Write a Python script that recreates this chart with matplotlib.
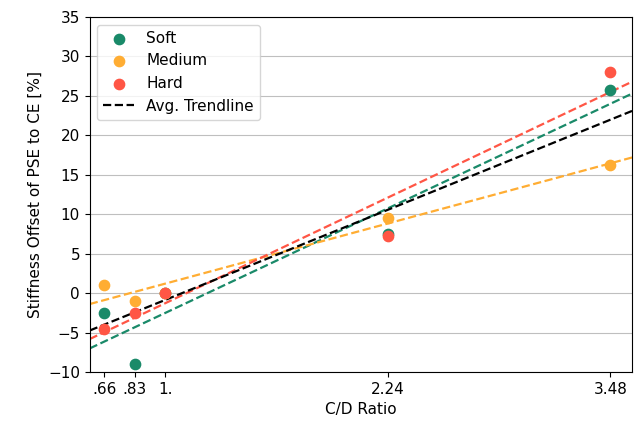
import numpy as np
import matplotlib
matplotlib.use("Agg")
import matplotlib.pyplot as plt

cd_ratio = [0.66, 0.83, 1.0, 2.24, 3.48]
tick_labels = [".66", ".83", "1.", "2.24", "3.48"]
soft = [-2.5, -9.0, 0.0, 7.5, 25.8]
medium = [1.0, -1.0, 0.0, 9.5, 16.3]
hard = [-4.5, -2.5, 0.0, 7.3, 28.0]

series = [("Soft", soft, "#1a8a69"), ("Medium", medium, "#ffad33"), ("Hard", hard, "#ff5645")]

plt.rcParams["font.size"] = 11
fig, ax = plt.subplots(figsize=(6.41, 4.22), dpi=100)
x = np.array(cd_ratio)
xlim = (0.58, 3.6)
xs = np.array(xlim)

for name, vals, col in series:
    ax.scatter(x, vals, s=55, color=col, label=name, zorder=3)
for name, vals, col in series:
    k, b = np.polyfit(x, vals, 1)
    ax.plot(xs, k * xs + b, "--", color=col, linewidth=1.6, zorder=2)

avg = np.mean([soft, medium, hard], axis=0)
k, b = np.polyfit(x, avg, 1)
ax.plot(xs, k * xs + b, "--", color="black", linewidth=1.6, label="Avg. Trendline", zorder=2)

ax.set_xlim(*xlim)
ax.set_ylim(-10, 35)
ax.set_xticks(cd_ratio)
ax.set_xticklabels(tick_labels)
ax.set_yticks(np.arange(-10, 36, 5))
ax.grid(axis="y", color="#b0b0b0", linewidth=0.8, alpha=0.8)
ax.set_axisbelow(True)
ax.set_xlabel("C/D Ratio")
ax.set_ylabel("Stiffness Offset of PSE to CE [%]")
ax.legend(loc="upper left")
fig.subplots_adjust(left=0.14, right=0.986, top=0.96, bottom=0.118)
fig.savefig("out.png", dpi=100)
